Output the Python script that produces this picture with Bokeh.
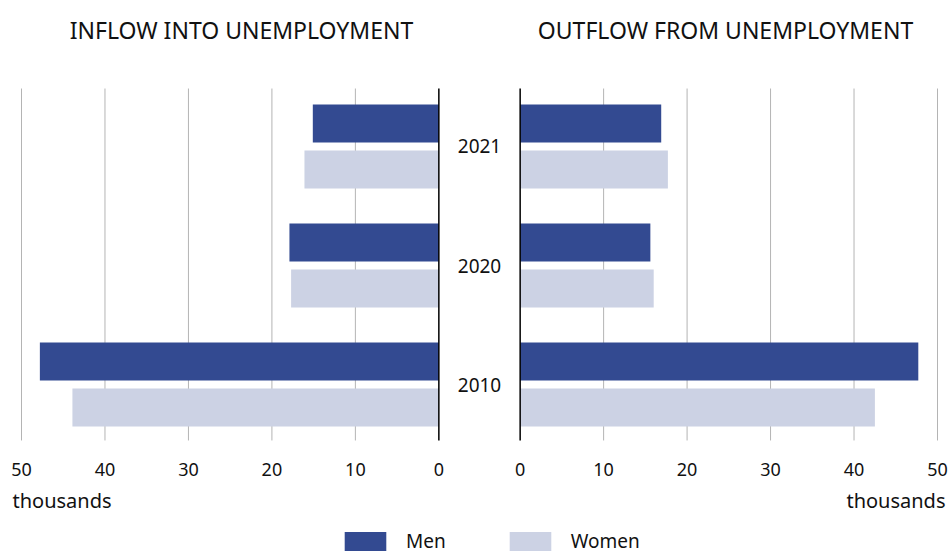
import numpy as np
from bokeh.plotting import figure
from bokeh.models import Range1d, Legend, LegendItem
from bokeh.core.properties import value
from bokeh.embed import file_html
from bokeh.resources import INLINE

# ---- data (thousands) ----
years = ["2010", "2020", "2021"]
inflow_men = [47.8, 17.9, 15.1]
inflow_women = [43.9, 17.7, 16.1]
outflow_men = [47.7, 15.6, 16.9]
outflow_women = [42.5, 16.0, 17.7]
tick_values = [0, 10, 20, 30, 40, 50]
titles = ["INFLOW INTO UNEMPLOYMENT", "OUTFLOW FROM UNEMPLOYMENT"]
unit_label = "thousands"
series_names = ["Men", "Women"]

MEN = "#334a91"
WOMEN = "#ccd2e4"
GRID = "#b4b4b4"
TXT = "#111111"
FONT = value("Noto Sans")

W, H = 949, 554
g = 4.87                 # half gap (data units) between the panels
xmax = 50 + g
# pixel layout of the plotting area
fl, fr, ft, fb = 21, 937, 88, 440
s = (fr - fl) / (2 * xmax)   # px per x unit
upp = 1 / 119.0              # y units per px
y_lo, y_hi = -0.47, 2.487    # data area
ys = np.arange(len(years), dtype=float)
bar_h = 0.32
off = 0.193

x0 = -xmax - fl / s
x1 = xmax + (W - fr) / s
y0 = y_lo - (H - fb) * upp
y1 = y_hi + ft * upp

p = figure(width=W, height=H, output_backend="svg", toolbar_location=None,
           x_range=Range1d(x0, x1), y_range=Range1d(y0, y1),
           x_axis_location=None, y_axis_location=None, min_border=0)
p.outline_line_color = None
p.xgrid.grid_line_color = None
p.ygrid.grid_line_color = None

# grid lines
tv = np.array(tick_values, dtype=float)
gx = np.concatenate([-g - tv[1:], g + tv[1:]])
p.segment(x0=gx, x1=gx, y0=np.full_like(gx, y_lo), y1=np.full_like(gx, y_hi),
          line_color=GRID, line_width=1)

# bars
r_men = p.hbar(y=ys + off, left=-g, right=-g - np.array(inflow_men), height=bar_h,
               fill_color=MEN, line_color=None)
r_women = p.hbar(y=ys - off, left=-g, right=-g - np.array(inflow_women), height=bar_h,
                 fill_color=WOMEN, line_color=None)
p.hbar(y=ys + off, left=g, right=g + np.array(outflow_men), height=bar_h,
       fill_color=MEN, line_color=None)
p.hbar(y=ys - off, left=g, right=g + np.array(outflow_women), height=bar_h,
       fill_color=WOMEN, line_color=None)

# zero lines
p.segment(x0=[-g, g], x1=[-g, g], y0=[y_lo, y_lo], y1=[y_hi, y_hi],
          line_color="black", line_width=1.5)

# year labels
p.text(x=np.zeros_like(ys), y=ys, text=years, text_align="center", text_baseline="middle",
       text_font=FONT, text_font_size="19px", text_color=TXT)

# tick labels
tick_y = y_lo - 29 * upp
tx = np.concatenate([-g - tv, g + tv])
tl = [str(t) for t in tick_values] * 2
p.text(x=tx, y=np.full_like(tx, tick_y), text=tl, text_align="center",
       text_baseline="middle", text_font=FONT, text_font_size="18px", text_color=TXT)

# unit labels
unit_y = y_lo - 60 * upp
p.text(x=[-xmax - 9 / s], y=[unit_y], text=[unit_label], text_align="left",
       text_baseline="middle", text_font=FONT, text_font_size="20px", text_color=TXT)
p.text(x=[xmax + 8 / s], y=[unit_y], text=[unit_label], text_align="right",
       text_baseline="middle", text_font=FONT, text_font_size="20px", text_color=TXT)

# panel titles
title_y = y_hi + 59 * upp
p.text(x=[-xmax + (241 - fl) / s, xmax - (fr - 725) / s], y=[title_y, title_y], text=titles,
       text_align="center", text_baseline="middle", text_font=FONT,
       text_font_size="23px", text_color=TXT)

legend = Legend(items=[LegendItem(label=series_names[0], renderers=[r_men]),
                       LegendItem(label=series_names[1], renderers=[r_women])],
                orientation="horizontal", location=(339, 0),
                glyph_width=52, glyph_height=24, padding=0, margin=0, spacing=58,
                label_standoff=15, label_text_font="Noto Sans", label_text_font_size="19px",
                label_text_color=TXT, border_line_color=None,
                background_fill_alpha=0)
p.add_layout(legend, "center")

open("out.html", "w").write(file_html(p, INLINE))
